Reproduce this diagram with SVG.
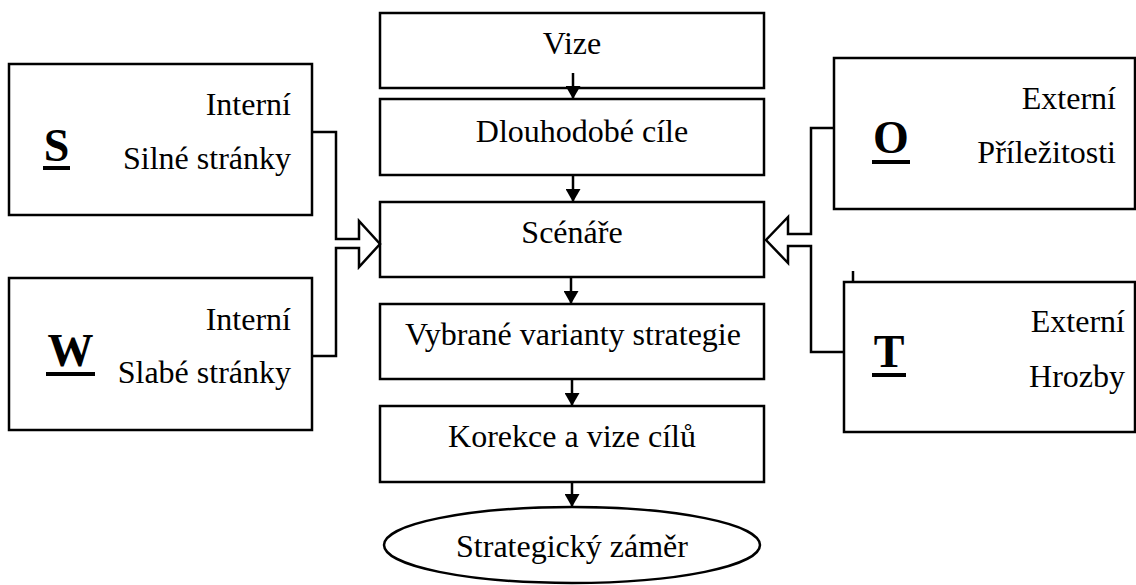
<svg xmlns="http://www.w3.org/2000/svg" width="1136" height="585" viewBox="0 0 1136 585">
  <style>
    .box { fill: #fff; stroke: #000; stroke-width: 2.5; }
    .line { fill: none; stroke: #000; stroke-width: 2.5; }
    .t { font-family: "Liberation Serif", "Times New Roman", serif; font-size: 32px; fill: #000; }
    .c { text-anchor: middle; }
    .r { text-anchor: end; }
    .big { font-family: "Liberation Serif", "Times New Roman", serif; font-size: 46px; font-weight: bold; fill: #000; text-anchor: middle; }
    .ul { fill: #000; }
  </style>
  <defs>
    <marker id="head" markerUnits="userSpaceOnUse" markerWidth="16" markerHeight="15" refX="13" refY="7.5" orient="auto">
      <path d="M0,0 L13,7.5 L0,15 Z" fill="#000"/>
    </marker>
  </defs>

  <rect width="1136" height="585" fill="#fff"/>

  <!-- central chain -->
  <g id="vize">
    <rect class="box" x="380" y="13" width="384" height="75"/>
    <text class="t c" x="572" y="54">Vize</text>
  </g>
  <g id="cile">
    <rect class="box" x="380" y="99" width="384" height="76"/>
    <text class="t c" x="582" y="142">Dlouhodobé cíle</text>
  </g>
  <g id="scenare">
    <rect class="box" x="380" y="202" width="384" height="75"/>
    <text class="t c" x="572" y="243">Scénáře</text>
  </g>
  <g id="varianty">
    <rect class="box" x="380" y="304" width="384" height="75"/>
    <text class="t c" x="573" y="345">Vybrané varianty strategie</text>
  </g>
  <g id="korekce">
    <rect class="box" x="380" y="406" width="384" height="76"/>
    <text class="t c" x="572" y="447">Korekce a vize cílů</text>
  </g>
  <g id="zamer">
    <ellipse class="box" cx="572" cy="545" rx="188" ry="38"/>
    <text class="t c" x="572" y="557">Strategický záměr</text>
  </g>

  <!-- SWOT quadrants -->
  <g id="s">
    <rect class="box" x="9" y="64" width="303" height="151"/>
    <text class="big" x="56.5" y="161">S</text>
    <rect class="ul" x="43" y="166" width="27" height="4"/>
    <text class="t r" x="291" y="115">Interní</text>
    <text class="t r" x="291" y="169">Silné stránky</text>
  </g>
  <g id="w">
    <rect class="box" x="9" y="278" width="303" height="152"/>
    <text class="big" x="70.5" y="366">W</text>
    <rect class="ul" x="46" y="372" width="49" height="4"/>
    <text class="t r" x="291" y="330">Interní</text>
    <text class="t r" x="291" y="383">Slabé stránky</text>
  </g>
  <g id="o">
    <rect class="box" x="834" y="58" width="301" height="151"/>
    <text class="big" x="891" y="153">O</text>
    <rect class="ul" x="872" y="160" width="38" height="4"/>
    <text class="t r" x="1116" y="109">Externí</text>
    <text class="t r" x="1116" y="163">Příležitosti</text>
  </g>
  <g id="t">
    <rect class="box" x="844" y="282" width="291" height="150"/>
    <line class="line" x1="853" y1="271" x2="853" y2="282"/>
    <text class="big" x="889" y="367">T</text>
    <rect class="ul" x="872" y="373" width="34" height="4"/>
    <text class="t r" x="1125" y="332">Externí</text>
    <text class="t r" x="1125" y="387">Hrozby</text>
  </g>

  <!-- connectors -->
  <g id="connectors">
    <line class="line" x1="573" y1="73" x2="573" y2="99" marker-end="url(#head)"/>
    <line class="line" x1="573" y1="175" x2="573" y2="202" marker-end="url(#head)"/>
    <line class="line" x1="571" y1="277" x2="571" y2="304" marker-end="url(#head)"/>
    <line class="line" x1="572" y1="379" x2="572" y2="406" marker-end="url(#head)"/>
    <line class="line" x1="572" y1="482" x2="572" y2="507" marker-end="url(#head)"/>
    <!-- internal factors merge into a hollow arrow -->
    <path class="line" d="M312,132 H336 V239 H359 V221 L380,244 L359,267 V248 H336 V356 H312"/>
    <!-- external factors merge into a hollow arrow -->
    <path class="line" d="M834,128 H811 V234 H788 V217 L766,240 L788,263 V246 H811 V352 H844"/>
  </g>
</svg>
